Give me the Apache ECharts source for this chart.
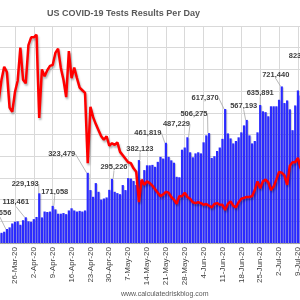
<!DOCTYPE html>
<html>
<head>
<meta charset="utf-8">
<script src="https://cdn.jsdelivr.net/npm/echarts@6.0.0/dist/echarts.min.js"></script>
<style>
  html, body { margin: 0; padding: 0; background: #fff; }
  #main { width: 300px; height: 300px; }
</style>
</head>
<body>
<div id="main"></div>
<script>
// daily test results, one entry per day starting 20-Mar-20
const startDate = new Date(2020, 2, 20);
const months = ['Jan', 'Feb', 'Mar', 'Apr', 'May', 'Jun', 'Jul', 'Aug', 'Sep', 'Oct', 'Nov', 'Dec'];

const testsPerDay = [
  45000, 47000, 52000, 64656, 72000, 90000, 98000, 100000, 84000, 105000,
  118461, 100000, 98000, 110000, 120000, 229193, 118000, 145000, 143000, 145000,
  171058, 155000, 135000, 135000, 138000, 133000, 150000, 160000, 150000, 145000,
  148000, 145000, 150000, 323479, 244000, 213000, 276000, 236000, 200000, 205000,
  210000, 245000, 295226, 236000, 230000, 225000, 267000, 244000, 299000, 297000,
  286000, 267000, 382123, 290000, 336000, 358000, 358000, 360000, 351000, 374000,
  397000, 389000, 461819, 397000, 381000, 370000, 305000, 303000, 430000, 440000,
  487229, 418000, 395000, 413000, 418000, 413000, 464000, 496000, 506275, 392000,
  400000, 424000, 440000, 480000, 617370, 505000, 482000, 459000, 470000, 487000,
  510000, 542000, 567193, 496000, 459000, 470000, 510000, 635891, 607000, 603000,
  584000, 630000, 630000, 630000, 660000, 721440, 645000, 657000, 616000, 520000,
  634000, 703000, 680000, 823416, 700000
];

// percent positive (red line, right axis, not shown)
const percentPositive = [
  16.5, 18.8, 20.3, 19.7, 15.6, 15.1, 17.4, 18.7, 22.5, 18.8,
  18.4, 22.8, 23.7, 23.7, 24.0, 14.4, 20.0, 19.2, 19.9, 20.4,
  20.5, 21.9, 22.4, 20.2, 18.8, 16.8, 22.1, 19.0, 20.2, 19.0,
  17.9, 17.6, 17.3, 9.2, 15.7, 14.5, 13.7, 13.0, 12.3, 11.9,
  12.3, 11.2, 11.5, 11.3, 11.6, 10.5, 10.1, 9.7, 9.3, 9.2,
  8.6, 8.2, 4.7, 7.3, 6.7, 7.1, 6.9, 6.6, 6.2, 5.8,
  5.4, 5.6, 5.9, 5.8, 5.3, 5.0, 4.5, 5.4, 5.4, 5.8,
  5.3, 5.1, 4.7, 4.6, 4.7, 4.6, 4.4, 4.5, 4.3, 4.1,
  4.5, 4.6, 4.4, 4.4, 3.8, 4.5, 4.8, 4.3, 4.1, 4.7,
  5.1, 5.2, 5.3, 5.3, 5.4, 6.1, 7.1, 6.3, 7.1, 7.3,
  7.0, 6.1, 6.5, 7.3, 8.2, 8.1, 7.8, 6.7, 8.9, 9.3,
  9.3, 9.8, 8.6, 9.5, 9.3
];

// days that get a value callout
const calloutDays = [3, 10, 15, 20, 33, 42, 52, 62, 70, 78, 84, 92, 97, 105, 113];
// where each callout sits, relative to the top of its bar
const calloutOffsets = {
  3: [-7, -16], 10: [-10, -15], 15: [-14, -9], 20: [2, -14], 33: [-26, -19],
  42: [2, -12], 52: [1, -11], 62: [-18, -10], 70: [-11, -13], 78: [-15, -19],
  84: [-20, -11], 92: [-3, -14], 97: [0, -12], 105: [-6, -12], 113: [-1, -8]
};

const dates = testsPerDay.map((v, i) => {
  const d = new Date(startDate.getTime());
  d.setDate(d.getDate() + i);
  return d.getDate() + '-' + months[d.getMonth()] + '-20';
});

const weekly = (idx) => idx >= 6 && (idx - 6) % 7 === 0;
const font = 'Liberation Sans, Arial, sans-serif';

const option = {
  animation: false,
  title: [
    {
      text: 'US COVID-19 Tests Results Per Day',
      left: 42,
      top: 4,
      textStyle: { fontFamily: font, fontSize: 9, fontWeight: 'bold', color: '#595959' }
    },
    {
      text: 'www.calculatedriskblog.com',
      left: 116,
      top: 286,
      textStyle: { fontFamily: font, fontSize: 7, fontWeight: 'normal', color: '#595959' }
    }
  ],
  grid: {
    left: -1.2,
    right: -6,
    top: 26,
    bottom: 57,
    containLabel: false,
    outerBoundsMode: 'none'
  },
  xAxis: {
    type: 'category',
    data: dates,
    boundaryGap: false,
    axisLine: { show: true, lineStyle: { color: '#bfbfbf', width: 1 } },
    axisTick: { show: false },
    axisLabel: {
      interval: weekly,
      rotate: 90,
      margin: 4,
      fontFamily: font,
      fontSize: 8,
      color: '#404040'
    },
    splitLine: { show: true, interval: weekly, lineStyle: { color: '#d9d9d9', width: 1 } }
  },
  yAxis: [
    {
      type: 'value',
      min: 0,
      max: 1000000,
      interval: 100000,
      axisLabel: { show: false },
      axisLine: { show: false },
      axisTick: { show: false },
      splitLine: { show: true, lineStyle: { color: '#d9d9d9', width: 1 } }
    },
    {
      type: 'value',
      min: 0,
      max: 25,
      axisLabel: { show: false },
      axisLine: { show: false },
      axisTick: { show: false },
      splitLine: { show: false }
    }
  ],
  series: [
    {
      name: 'Tests',
      type: 'bar',
      barCategoryGap: '18%',
      itemStyle: {
        color: '#2a2aff',
        shadowColor: 'rgba(0,0,0,0.2)',
        shadowOffsetX: 1,
        shadowOffsetY: 1,
        shadowBlur: 1
      },
      data: testsPerDay.map((v, i) => calloutDays.includes(i)
        ? { value: v, label: { show: true } }
        : v),
      label: {
        show: false,
        position: 'top',
        fontFamily: font,
        fontSize: 7.5,
        fontWeight: 'bold',
        color: '#404040',
        formatter: (p) => p.value.toLocaleString('en-US')
      },
      labelLine: {
        show: true,
        lineStyle: { color: '#a6a6a6', width: 0.8 }
      },
      labelLayout: (p) => {
        const off = calloutOffsets[p.dataIndex];
        if (!off || !p.rect) return {};
        return {
          x: p.rect.x + p.rect.width / 2 + off[0],
          y: p.rect.y + off[1],
          align: 'center',
          verticalAlign: 'middle'
        };
      },
      z: 2
    },
    {
      name: 'Percent Positive',
      type: 'line',
      yAxisIndex: 1,
      data: percentPositive,
      symbol: 'none',
      lineStyle: {
        color: '#ff0000',
        width: 2.5,
        shadowColor: 'rgba(0,0,0,0.3)',
        shadowBlur: 2,
        shadowOffsetX: 1,
        shadowOffsetY: 2
      },
      itemStyle: { color: '#ff0000' },
      z: 3
    }
  ]
};

echarts.init(document.getElementById('main')).setOption(option);
</script>
</body>
</html>
